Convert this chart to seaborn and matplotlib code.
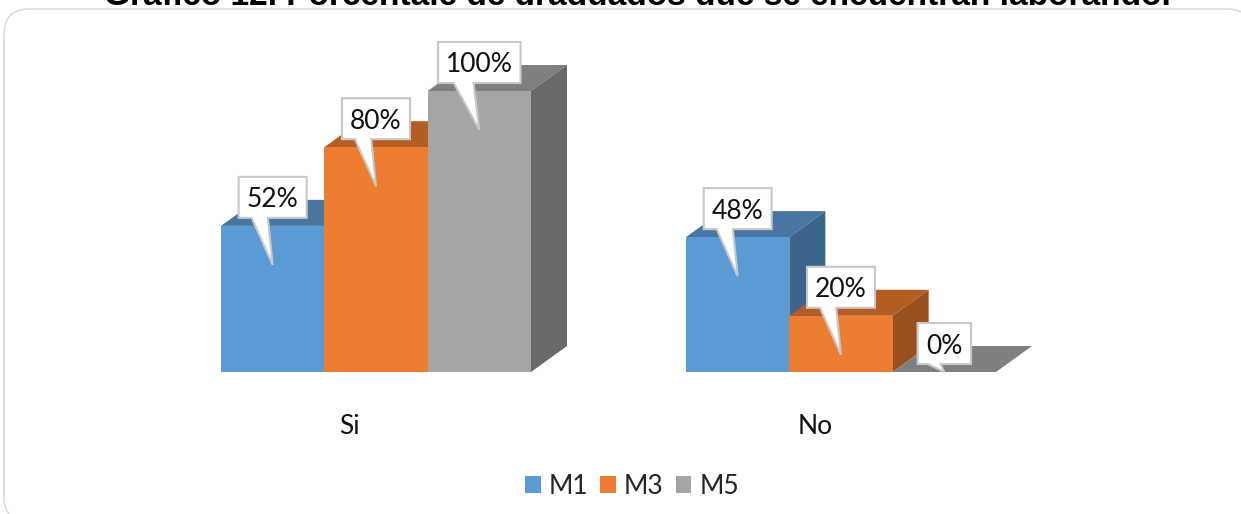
import numpy as np
import pandas as pd
import matplotlib
matplotlib.use('Agg')
import matplotlib.pyplot as plt
from matplotlib.patches import FancyBboxPatch, Polygon, Rectangle
from matplotlib.transforms import IdentityTransform
import seaborn as sns

categories = ['Si', 'No']
series_names = ['M1', 'M3', 'M5']
m1 = [52, 48]
m3 = [80, 20]
m5 = [100, 0]
title = 'Gráfico 12. Porcentaje de graduados que se encuentran laborando.'

front_colors = ['#5B9BD5', '#ED7D31', '#A5A5A5']
top_colors = ['#4876A1', '#B55E24', '#7F7F7F']
side_colors = ['#3B658A', '#99501D', '#696969']

sns.set_theme(style='white')
plt.rcParams['font.family'] = ['Lato', 'DejaVu Sans']

df = pd.DataFrame({
    'cat': categories * 3,
    'serie': np.repeat(series_names, 2),
    'val': m1 + m3 + m5,
})

W, H = 1241, 514
px = IdentityTransform()
fig = plt.figure(figsize=(W / 100, H / 100), dpi=100)
fig.patch.set_facecolor('white')
ax = fig.add_axes([0, 0, 1, 1])
ax.patch.set_alpha(0)

sns.barplot(data=df, x='cat', y='val', hue='serie', palette=front_colors, width=2 / 3,
            gap=0, saturation=1, ax=ax, zorder=3, linewidth=0)

# pixels per unit on each axis, the axes fill the whole figure
sx, sy = 465.0, 2.81
ax.set_xlim(-376 / sx, (W - 376) / sx)
ax.set_ylim((372 - H) / sy, 372 / sy)
ax.set_xlabel('')
ax.set_ylabel('')
ax.set_yticks([])
ax.spines['bottom'].set_position(('data', 0))
sns.despine(ax=ax, left=True, bottom=True)
ax.set_xticks([-0.056, 0.944])
ax.set_xticklabels(categories, fontsize=19, color='#111111')
ax.tick_params(axis='x', length=0, pad=30)

# title is cut by the card in the original, so it goes under it
ax.text(637, H - 5, title, transform=px, ha='center', va='baseline', fontsize=24.1,
        fontweight='bold', family=['Liberation Sans'], color='black', zorder=-1, clip_on=False)
ax.add_patch(Rectangle((0, H - 12), W, 7, transform=px, fc='white', lw=0, zorder=-0.5))
ax.add_patch(FancyBboxPatch((29, 17), 1198, 463, boxstyle='round,pad=25,rounding_size=25',
                            transform=px, fc='white', ec='#D9D9D9', lw=1.1, zorder=0,
                            clip_on=False))

dx, dy = 36 / sx, 26 / sy
for cont, top_c, side_c in zip(ax.containers, top_colors, side_colors):
    for bar in cont:
        x0 = bar.get_x()
        x1 = x0 + bar.get_width()
        h = bar.get_height()
        ax.add_patch(Polygon([(x0, h), (x1, h), (x1 + dx, h + dy), (x0 + dx, h + dy)],
                             fc=top_c, lw=0, zorder=2))
        if h > 0:
            ax.add_patch(Polygon([(x1, 0), (x1 + dx, dy), (x1 + dx, h + dy), (x1, h)],
                                 fc=side_c, lw=0, zorder=2))

# data label callouts, sizes in pixels
for cont in ax.containers:
    for bar in cont:
        h = bar.get_height()
        label = f'{h:.0f}%'
        cx, top = ax.transData.transform((bar.get_x() + bar.get_width() / 2, h))
        base = ax.transData.transform((0, 0))[1]
        bw = 24.5 + 14.5 * len(label)
        y0, y1 = top + 8, top + 49
        tip = max(top - 39, base)
        pts = [(cx - bw / 2, y0), (cx - 0.31 * bw, y0), (cx, tip), (cx - 0.07 * bw, y0),
               (cx + bw / 2, y0), (cx + bw / 2, y1), (cx - bw / 2, y1)]
        ax.add_patch(Polygon(pts, transform=px, fc='white', ec='#C8C8C8',
                             lw=1.5, zorder=4, joinstyle='miter'))
        ax.text(cx, (y0 + y1) / 2, label, transform=px, ha='center', va='center_baseline',
                fontsize=19, color='#111111', zorder=5)

sns.move_legend(ax, 'center', bbox_to_anchor=(632 / W, 1 - 486 / H), ncol=3, title=None,
                frameon=False, fontsize=19, handlelength=0.6, handleheight=0.6,
                handletextpad=0.3, columnspacing=0.45)

fig.savefig('out.png', dpi=100)
